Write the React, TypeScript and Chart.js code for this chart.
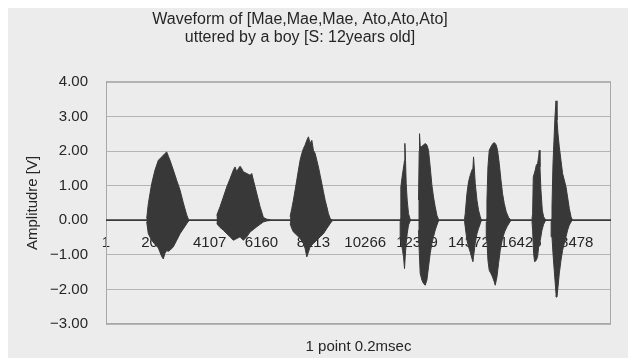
import React, { useEffect, useRef } from 'react';
import { Chart, registerables } from 'chart.js';

Chart.register(...registerables);

const titleLines = ['Waveform of [Mae,Mae,Mae, Ato,Ato,Ato]', 'uttered by a boy [S: 12years old]'];
const xTitle = '1 point 0.2msec';
const yTitle = 'Amplitudre [V]';
const xTickValues = [1, 2054, 4107, 6160, 8213, 10266, 12319, 14372, 16425, 18478];
const yTickValues = [-3, -2, -1, 0, 1, 2, 3, 4];
const xRange = [1, 20000];

// silent baseline (sample index, volts)
const baseline = [[1, 0], [20000, 0]];

// envelopes of each voiced burst: [sample index, volts]
const mae1Upper = [[1613, 0.05], [1677, 0.48], [1811, 1.06], [1942, 1.45], [2073, 1.73], [2207, 1.83], [2338, 1.93], [2406, 1.97], [2470, 1.85], [2536, 1.73], [2667, 1.45], [2802, 1.15], [2933, 0.87], [3063, 0.5], [3198, 0.15], [3262, 0.03]];
const mae1Lower = [[1613, -0.05], [1677, -0.39], [1811, -0.58], [1942, -0.7], [2073, -0.8], [2207, -1.05], [2270, -1.12], [2338, -0.95], [2406, -0.88], [2470, -0.9], [2536, -0.87], [2667, -0.77], [2802, -0.58], [2933, -0.39], [3063, -0.25], [3198, -0.1], [3262, -0.03]];

const mae2Upper = [[4387, 0.14], [4518, 0.39], [4649, 0.67], [4783, 0.96], [4914, 1.2], [5045, 1.45], [5112, 1.54], [5180, 1.4], [5243, 1.49], [5310, 1.56], [5378, 1.49], [5441, 1.4], [5576, 1.35], [5707, 1.3], [5774, 1.35], [5837, 1.16], [5972, 0.77], [6103, 0.39], [6234, 0.08], [6369, 0.03], [6499, 0.01]];
const mae2Lower = [[4387, -0.1], [4518, -0.21], [4649, -0.29], [4783, -0.39], [4914, -0.48], [5045, -0.58], [5180, -0.53], [5310, -0.48], [5441, -0.58], [5576, -0.48], [5707, -0.34], [5837, -0.27], [5972, -0.19], [6103, -0.12], [6234, -0.05], [6369, -0.02], [6499, -0.01]];

const mae3Upper = [[7292, 0.1], [7359, 0.34], [7423, 0.58], [7490, 0.87], [7557, 1.16], [7621, 1.45], [7688, 1.73], [7756, 1.93], [7819, 2.07], [7886, 2.17], [7954, 2.31], [8017, 2.41], [8085, 2.22], [8152, 2.31], [8215, 2.02], [8283, 1.93], [8350, 1.73], [8413, 1.54], [8481, 1.3], [8548, 1.06], [8612, 0.82], [8679, 0.58], [8746, 0.39], [8810, 0.19], [8877, 0.05], [8945, 0.01]];
const mae3Lower = [[7292, -0.1], [7359, -0.24], [7423, -0.34], [7557, -0.43], [7688, -0.53], [7819, -0.67], [7886, -0.82], [7954, -1.06], [8017, -0.92], [8085, -0.77], [8215, -0.67], [8350, -0.58], [8481, -0.48], [8612, -0.39], [8746, -0.24], [8877, -0.1], [8945, -0.03]];

const ato1aUpper = [[11651, 0.05], [11678, 0.96], [11718, 1.2], [11757, 1.4], [11797, 1.59], [11823, 1.73], [11837, 2.22], [11863, 1.73], [11889, 1.06], [11929, 0.58], [11981, 0.19], [12048, 0.02]];
const ato1aLower = [[11651, -0.03], [11678, -0.58], [11744, -0.87], [11784, -1.06], [11823, -1.4], [11850, -1.06], [11889, -0.67], [11929, -0.39], [11981, -0.14], [12048, -0.02]];

const ato1bUpper = [[12377, 0.58], [12404, 2.0], [12417, 2.5], [12444, 2.15], [12483, 2.12], [12574, 2.17], [12642, 2.22], [12709, 2.17], [12773, 2.02], [12840, 1.54], [12907, 1.01], [12971, 0.67], [13038, 0.39], [13106, 0.14], [13169, 0.02]];
const ato1bLower = [[12377, -0.29], [12404, -0.87], [12444, -1.54], [12511, -1.73], [12574, -1.83], [12642, -1.88], [12709, -1.73], [12773, -1.35], [12840, -0.96], [12907, -0.67], [12971, -0.48], [13038, -0.29], [13106, -0.14], [13169, -0.02]];

const ato2aUpper = [[14200, 0.03], [14227, 0.19], [14295, 0.77], [14358, 1.11], [14425, 1.3], [14493, 1.45], [14532, 1.5], [14556, 1.83], [14584, 1.54], [14624, 1.06], [14691, 0.58], [14754, 0.29], [14822, 0.1], [14861, 0.02]];
const ato2aLower = [[14200, -0.03], [14227, -0.19], [14295, -0.58], [14358, -0.77], [14425, -0.92], [14493, -1.11], [14532, -1.2], [14556, -1.05], [14624, -0.67], [14691, -0.39], [14754, -0.24], [14822, -0.1], [14861, -0.02]];

const ato2bUpper = [[15060, 0.05], [15087, 0.58], [15127, 1.54], [15178, 2.02], [15245, 2.12], [15325, 2.22], [15388, 2.24], [15456, 2.17], [15507, 2.02], [15575, 1.64], [15642, 1.16], [15705, 0.77], [15773, 0.48], [15852, 0.24], [15943, 0.08], [16011, 0.02]];
const ato2bLower = [[15060, -0.05], [15087, -0.58], [15127, -1.16], [15178, -1.45], [15245, -1.54], [15309, -1.64], [15376, -1.78], [15416, -1.88], [15483, -1.64], [15547, -1.25], [15614, -0.87], [15705, -0.53], [15785, -0.34], [15880, -0.19], [16011, -0.03]];

const ato3aUpper = [[16870, 0.03], [16896, 0.19], [16922, 1.25], [16962, 1.35], [17002, 1.45], [17041, 1.59], [17094, 1.64], [17134, 1.83], [17160, 2.02], [17187, 1.54], [17226, 0.87], [17278, 0.29], [17331, 0.1], [17398, 0.02]];
const ato3aLower = [[16870, -0.03], [16896, -0.29], [16935, -0.96], [16975, -1.2], [17041, -1.16], [17094, -1.05], [17134, -0.77], [17199, -0.58], [17266, -0.29], [17331, -0.12], [17398, -0.02]];

const ato3bUpper = [[17630, 0.03], [17663, 0.39], [17703, 1.64], [17742, 2.31], [17782, 2.99], [17822, 3.45], [17861, 2.89], [17901, 2.5], [17952, 2.12], [18019, 1.73], [18083, 1.35], [18150, 1.16], [18218, 0.96], [18281, 0.67], [18349, 0.34], [18416, 0.1], [18468, 0.01]];
const ato3bLower = [[17630, -0.03], [17663, -0.48], [17703, -0.96], [17742, -1.35], [17782, -1.73], [17822, -2.12], [17861, -2.22], [17901, -1.93], [17952, -1.54], [18019, -1.16], [18083, -0.87], [18150, -0.67], [18218, -0.48], [18281, -0.29], [18349, -0.14], [18416, -0.05], [18468, -0.01]];

const bursts = [
  [mae1Upper, mae1Lower],
  [mae2Upper, mae2Lower],
  [mae3Upper, mae3Lower],
  [ato1aUpper, ato1aLower],
  [ato1bUpper, ato1bLower],
  [ato2aUpper, ato2aLower],
  [ato2bUpper, ato2bLower],
  [ato3aUpper, ato3aLower],
  [ato3bUpper, ato3bLower],
];

const WAVE = '#383838';
const TEXT = '#262626';
const GRID = '#b4b4b4';
const FONT = "'Liberation Sans', Arial, sans-serif";

function toPolygon(upper: number[][], lower: number[][]) {
  return [...upper, ...lower.slice().reverse()].map(([x, y]) => ({ x, y }));
}

const framePlugin = {
  id: 'frame',
  beforeDatasetsDraw(chart: any) {
    const { ctx, chartArea } = chart;
    ctx.save();
    ctx.strokeStyle = '#a8a8a8';
    ctx.lineWidth = 1;
    ctx.strokeRect(chartArea.left + 0.5, chartArea.top + 0.5, chartArea.right - chartArea.left - 1, chartArea.bottom - chartArea.top - 1);
    ctx.restore();
  },
};

export default function App() {
  const ref = useRef<HTMLCanvasElement>(null);
  useEffect(() => {
    if (!ref.current) return;
    const datasets: any[] = bursts.map(([u, l]) => ({
      data: toPolygon(u, l),
      fill: 'shape',
      backgroundColor: WAVE,
      borderColor: WAVE,
      borderWidth: 1,
      pointRadius: 0,
      tension: 0,
    }));
    datasets.push({
      data: baseline.map(([x, y]) => ({ x, y })),
      fill: false,
      borderColor: WAVE,
      borderWidth: 1.8,
      pointRadius: 0,
    });
    const chart = new Chart(ref.current, {
      type: 'line',
      data: { datasets },
      plugins: [framePlugin],
      options: {
        animation: false,
        responsive: false,
        devicePixelRatio: 1,
        layout: { padding: { left: 1, right: 1, top: 0, bottom: 0 } },
        plugins: {
          legend: { display: false },
          tooltip: { enabled: false },
          title: {
            display: true,
            text: titleLines,
            color: TEXT,
            font: { family: FONT, size: 16, weight: 'normal', lineHeight: 1.15 },
            padding: { top: 2, bottom: 35 },
          },
          subtitle: {
            display: true,
            position: 'bottom',
            fullSize: false,
            text: xTitle,
            color: TEXT,
            font: { family: FONT, size: 15, weight: 'normal' },
            padding: { top: 14, bottom: 2 },
          },
        },
        scales: {
          x: {
            type: 'linear',
            min: xRange[0],
            max: xRange[1],
            position: { y: 0 } as any,
            grid: { display: false, drawTicks: false },
            border: { display: false },
            afterBuildTicks: (s: any) => {
              s.ticks = xTickValues.map((v) => ({ value: v }));
            },
            ticks: {
              autoSkip: false,
              maxRotation: 0,
              padding: 14,
              color: TEXT,
              font: { family: FONT, size: 15 },
              callback: (v: any) => String(v),
            },
          },
          y: {
            type: 'linear',
            min: -3,
            max: 4,
            afterBuildTicks: (s: any) => {
              s.ticks = yTickValues.map((v) => ({ value: v }));
            },
            afterFit: (s: any) => {
              s.width = 117;
            },
            grid: { color: GRID, lineWidth: 1, drawTicks: false },
            border: { display: true, color: '#a8a8a8' },
            ticks: {
              padding: 18,
              color: TEXT,
              font: { family: FONT, size: 15 },
              callback: (v: any) => (v < 0 ? '\u2212' : '') + Math.abs(v).toFixed(2),
            },
            title: {
              display: true,
              text: yTitle,
              color: TEXT,
              font: { family: FONT, size: 15 },
              padding: { top: 35, bottom: 0 },
            },
          },
        },
      },
    });
    return () => chart.destroy();
  }, []);
  return (
    <div style={{ position: 'relative', width: 620, height: 350, background: '#ececec' }}>
      <canvas
        ref={ref}
        width={624}
        height={350}
        style={{ position: 'absolute', left: -20, top: 0, display: 'block' }}
      />
    </div>
  );
}
